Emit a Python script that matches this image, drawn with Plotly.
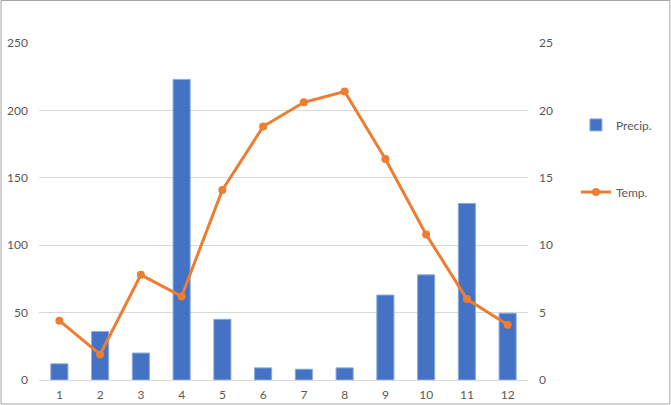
import plotly.graph_objects as go

months = ["1", "2", "3", "4", "5", "6", "7", "8", "9", "10", "11", "12"]
precip = [12, 36, 20, 223, 45, 9, 8, 9, 63, 78, 131, 49.5]
temp = [4.4, 1.9, 7.8, 6.2, 14.1, 18.8, 20.6, 21.4, 16.4, 10.8, 6.0, 4.1]
left_ticks = [0, 50, 100, 150, 200, 250]
right_ticks = [0, 5, 10, 15, 20, 25]

W, H = 671, 405
ml, mr, mt, mb = 38.5, 143, 43, 25
pw = W - ml - mr
ph = H - mt - mb

fig = go.Figure()
fig.add_trace(go.Bar(
    x=months, y=precip, name="Precip.", legendgroup="a",
    marker=dict(color="#4472C4", line=dict(color="#8faadc", width=1)),
    yaxis="y",
))
fig.add_trace(go.Scatter(
    x=months, y=temp, name="Temp.", legendgroup="b",
    mode="lines+markers",
    line=dict(color="#ED7D31", width=3),
    marker=dict(color="#ED7D31", size=8),
    yaxis="y2",
))

font = dict(family="Lato, Liberation Sans, sans-serif", size=12, color="#595959")

fig.update_layout(
    width=W, height=H,
    margin=dict(l=ml, r=mr, t=mt, b=mb, pad=0, autoexpand=False),
    paper_bgcolor="white", plot_bgcolor="white",
    font=font,
    bargap=0.58,
    showlegend=True,
    legend=dict(x=(576 - ml) / pw, y=0.80, xanchor="left", yanchor="top",
                tracegroupgap=48, font=font, bgcolor="rgba(0,0,0,0)"),
    xaxis=dict(type="category", range=[-0.5, 11.5], showgrid=False,
               zeroline=False, showline=False, ticks="", tickfont=font,
               automargin=False, ticklabelstandoff=6),
    yaxis=dict(range=[0, 250], tickvals=left_ticks, showgrid=True,
               gridcolor="#d9d9d9", gridwidth=1, zeroline=True,
               zerolinecolor="#d9d9d9", zerolinewidth=1, showline=False,
               ticks="", tickfont=font, ticklabelstandoff=10, automargin=False),
    yaxis2=dict(range=[0, 25], tickvals=right_ticks, overlaying="y",
                side="right", showgrid=False, zeroline=False,
                showline=False, ticks="", tickfont=font, automargin=False,
                ticklabelstandoff=10),
    shapes=[dict(type="rect", xref="paper", yref="paper",
                 x0=(0.5 - ml) / pw, x1=(W - 1 - ml) / pw,
                 y0=-(mb - 1) / ph,
                 y1=(ph + mt - 0.5) / ph,
                 line=dict(color="#a6a6a6", width=1), layer="below")],
)

fig.write_html("out.html",
               config={"displayModeBar": False},
               post_script="document.body.style.margin='0';document.body.style.overflow='hidden';")
